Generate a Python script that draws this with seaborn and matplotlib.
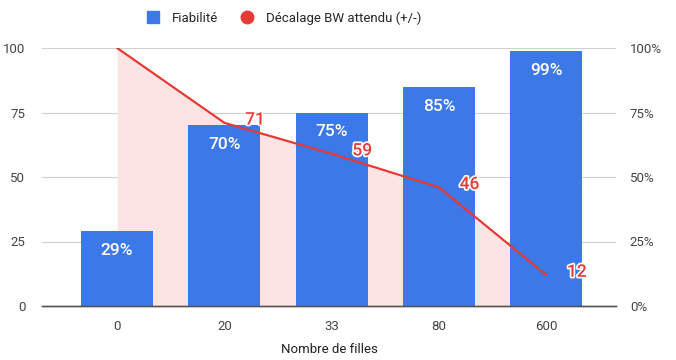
import numpy as np
import pandas as pd
import matplotlib
matplotlib.use("Agg")
import matplotlib.pyplot as plt
from matplotlib.lines import Line2D
import matplotlib.patheffects as pe
import seaborn as sns

# Data
categories = ["0", "20", "33", "80", "600"]
fiabilite = [29, 70, 75, 85, 99]
decalage = [100, 71, 59, 46, 12]
y_ticks = [0, 25, 50, 75, 100]

BLUE = "#3c78e8"
RED = "#e53a35"
PINK = "#fde4e4"


def main():
    sns.set_style("white")
    plt.rcParams["font.family"] = ["Roboto", "DejaVu Sans"]

    df = pd.DataFrame({"filles": categories, "fiabilite": fiabilite, "decalage": decalage})

    fig = plt.figure(figsize=(6.76, 3.6), dpi=100)
    ax = fig.add_axes([42 / 676, 1 - 306 / 360, (616 - 42) / 676, (306 - 48) / 360])

    # gridlines behind everything
    ax.set_axisbelow(True)
    ax.yaxis.grid(True, color="#d0d0d0", linewidth=0.8)

    # pink area under the line
    pos = np.arange(len(categories))
    ax.fill_between(pos, 0, df["decalage"], color=PINK, zorder=1, linewidth=0)

    sns.barplot(data=df, x="filles", y="fiabilite", order=categories, color=BLUE,
                saturation=1, width=0.67, linewidth=0, ax=ax, zorder=2)

    sns.lineplot(x=pos, y=df["decalage"], color=RED, linewidth=1.6, ax=ax, zorder=3)

    # bar labels
    for i, v in enumerate(fiabilite):
        ax.annotate(f"{v}%", (i, v), xytext=(0, -14), textcoords="offset points",
                    ha="center", va="center", color="white", fontsize=12.5,
                    fontweight="medium", zorder=4)

    # line labels (first point label is hidden in the reference)
    for i, v in enumerate(decalage):
        if i == 0:
            continue
        ax.annotate(str(v), (i, v), xytext=(22, 2), textcoords="offset points",
                    ha="center", va="center", color=RED, fontsize=12.5,
                    fontweight="medium", zorder=5,
                    path_effects=[pe.withStroke(linewidth=2.5, foreground="white")])

    ax.set_xlim(-0.7, 4.65)
    ax.set_ylim(0, 100)
    ax.set_yticks(y_ticks)
    ax.set_yticklabels([str(t) for t in y_ticks])
    ax.tick_params(axis="both", length=0, labelsize=9.5, colors="#444444")
    ax.tick_params(axis="x", pad=10)
    ax.tick_params(axis="y", pad=12)

    ax2 = ax.twinx()
    ax2.set_ylim(0, 100)
    ax2.set_yticks(y_ticks)
    ax2.set_yticklabels([f"{t}%" for t in y_ticks])
    ax2.tick_params(axis="y", length=0, labelsize=9.5, colors="#444444", pad=10)

    for a in (ax, ax2):
        for s in ("top", "left", "right"):
            a.spines[s].set_visible(False)
        a.spines["bottom"].set_color("#555555")
        a.spines["bottom"].set_linewidth(1)

    ax.set_ylabel("")
    ax.set_xlabel("Nombre de filles", fontsize=9.5, color="#222222", va="center")
    ax.xaxis.set_label_coords(0.5, -0.17)

    handles = [
        Line2D([], [], marker="s", linestyle="", markersize=9, color=BLUE),
        Line2D([], [], marker="o", linestyle="", markersize=9, color=RED),
    ]
    fig.legend(handles, ["Fiabilité", "Décalage BW attendu (+/-)"], loc="center",
               bbox_to_anchor=(0.39 + 0.025, 1 - 18 / 360), ncol=2, frameon=False,
               fontsize=9.5, handletextpad=0.4, columnspacing=1.2)

    fig.savefig("out.png", dpi=100)


if __name__ == "__main__":
    main()
